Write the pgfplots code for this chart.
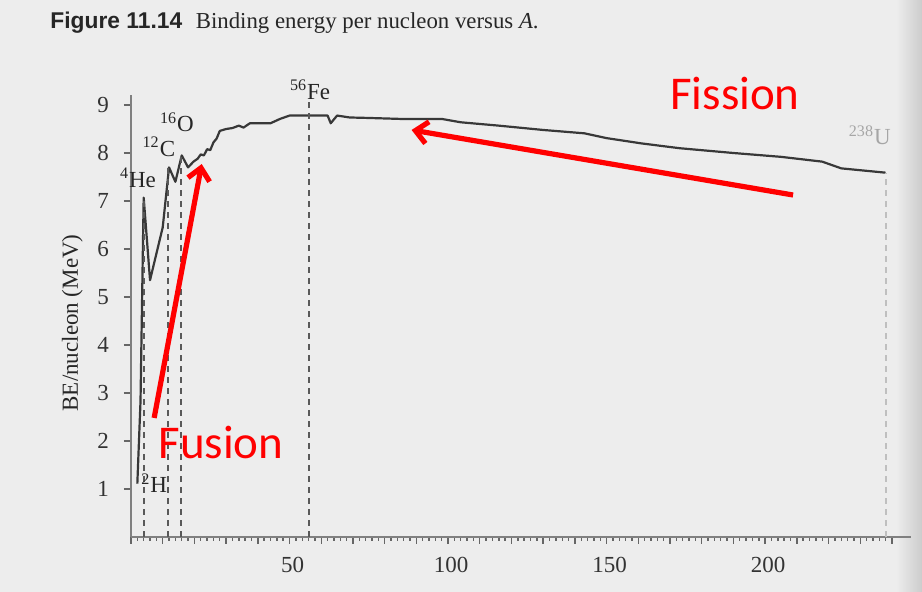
\documentclass[border=0pt]{standalone}
\usepackage{fontspec}
\setmainfont{Liberation Serif}
\newfontfamily\figfont{Liberation Sans}
\newfontfamily\calibri{Carlito}
\usepackage{pgfplots}
\pgfplotsset{compat=1.18}
\usetikzlibrary{arrows.meta}

\begin{document}
\begin{tikzpicture}[x=0.5pt,y=0.5pt]
% scanned page background, 922 x 592 px
\fill[black!7] (0,0) rectangle (922,592);
\shade[left color=black!7, right color=black!20] (896,0) rectangle (922,592);
\useasboundingbox (0,0) rectangle (922,592);
\node[anchor=base west, inner sep=0, text=black!85, font=\fontsize{11.4}{13}\selectfont] at (50,563)
  {{\figfont\bfseries Figure 11.14}\hspace{0.6em}Binding energy per nucleon versus \textit{A}.};

\begin{axis}[
    at={(65.5pt,27.5pt)}, anchor=south west,
    scale only axis, width=390pt, height=220.8pt,
    xmin=0, xmax=246, ymin=0, ymax=9.2,
    axis x line=bottom, axis y line=left,
    axis line style={-, black!50, line width=1.2pt},
    tick align=outside,
    major tick length=3.5pt, minor tick length=2pt,
    tick style={black!60, line width=0.7pt},
    xtick={0,10,...,240},
    xticklabels={,,,,,50,,,,,100,,,,,150,,,,,200,,,,},
    minor x tick num=4,
    ytick={1,...,9},
    ticklabel style={font=\fontsize{11.5}{13}\selectfont, text=black!80},
    xticklabel style={yshift=-3pt, xshift=1.5pt},
    yticklabel style={xshift=-4pt},
    /pgf/number format/assume math mode=true,
    clip=false,
]
% BE/A curve
\addplot[black!78, line width=1.1pt, line join=round, mark=none] coordinates {
    (2,1.11) (3,2.83) (4,7.07) (6,5.35) (10,6.45) (12,7.70) (14,7.40)
    (16,7.95) (18,7.70) (19.7,7.82) (21,7.88) (22,7.97) (23,7.95) (24,8.08)
    (25,8.06) (26,8.22) (27,8.30) (28,8.46) (30,8.50) (32,8.52) (34,8.57)
    (35.5,8.53) (37.5,8.62) (44,8.62) (47,8.71) (50,8.78) (56,8.78) (62,8.78)
    (63,8.62) (65,8.78) (69,8.74) (75,8.73) (85,8.71) (98,8.71) (104,8.64)
    (116,8.57) (130,8.48) (143,8.41) (150,8.31) (161,8.20) (173,8.10)
    (190,8.00) (205,7.92) (218,7.82) (224,7.68) (238,7.59)
};
% reference nuclides
\addplot[black!65, line width=1pt, dash pattern=on 3pt off 2.5pt] coordinates {(4,0) (4,7.07)};
\addplot[black!65, line width=1pt, dash pattern=on 3pt off 2.5pt] coordinates {(11.8,0) (11.8,7.70)};
\addplot[black!65, line width=1pt, dash pattern=on 3pt off 2.5pt] coordinates {(15.8,0) (15.8,7.95)};
\addplot[black!65, line width=1pt, dash pattern=on 3pt off 2.5pt] coordinates {(56,0) (56,9.1)};
\addplot[black!25, line width=1pt, dash pattern=on 3pt off 2.5pt] coordinates {(238,0) (238,7.59)};

\begin{scope}[font=\fontsize{11.5}{13}\selectfont, text=black!85, inner sep=0]
\node at (axis cs:2.2,7.48) {\textsuperscript{4}He};
\node at (axis cs:8.8,8.13) {\textsuperscript{12}C};
\node at (axis cs:14.5,8.64) {\textsuperscript{16}O};
\node at (axis cs:56.5,9.31) {\textsuperscript{56}Fe};
\node at (axis cs:7.3,1.12) {\textsuperscript{2}H};
\node[text=black!35] at (axis cs:233,8.37) {\textsuperscript{238}U};
\node[rotate=90] at (axis cs:-18.5,4.46) {BE/nucleon (MeV)};
\end{scope}

% red annotations
\draw[red, line width=2.6pt, -{Straight Barb[length=6pt,width=11pt]}]
    (axis cs:7.3,2.48) -- (axis cs:22.3,7.77);
\draw[red, line width=2.6pt, -{Straight Barb[length=6pt,width=11pt]}]
    (axis cs:208.8,7.125) -- (axis cs:88.5,8.48);
\node[red, font=\calibri\fontsize{23.5}{26}\selectfont] at (axis cs:190.5,9.25) {Fission};
\node[red, font=\calibri\fontsize{23.5}{26}\selectfont] at (axis cs:28.4,1.96) {Fusion};
\end{axis}
\end{tikzpicture}
\end{document}
